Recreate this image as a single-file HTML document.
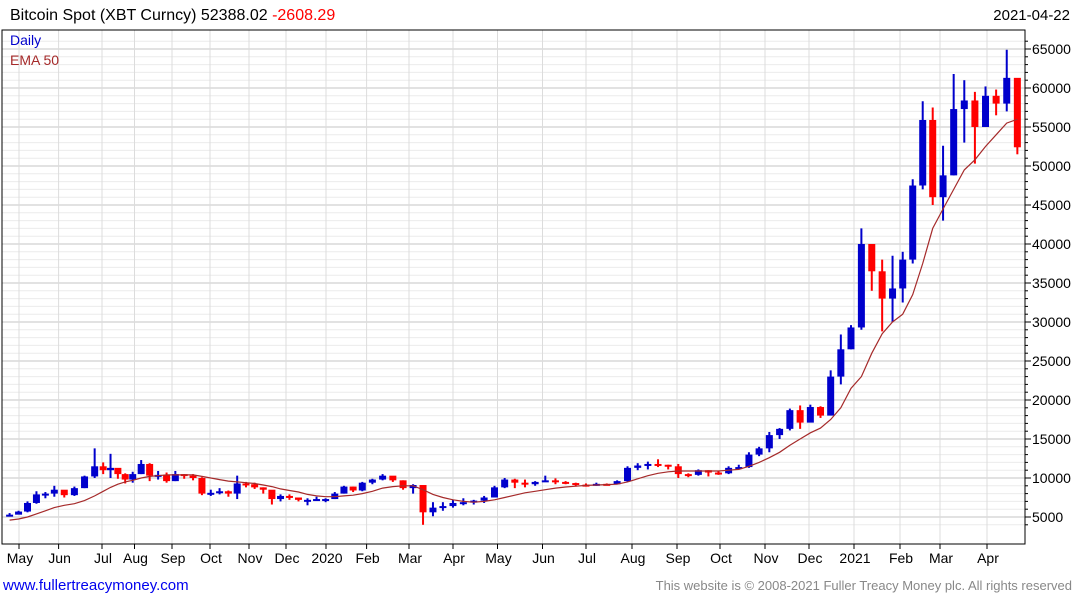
<!DOCTYPE html>
<html><head><meta charset="utf-8"><style>
body{margin:0;background:#fff;width:1075px;height:600px;overflow:hidden;font-family:"Liberation Sans",sans-serif}
svg{position:absolute;left:0;top:0}
</style></head><body>
<svg id="c" width="1075" height="600">
<text x="10" y="20" font-size="16" fill="#000">Bitcoin Spot (XBT Curncy) 52388.02 <tspan fill="#ff0000">-2608.29</tspan></text>
<text x="1070" y="20" font-size="15" text-anchor="end" fill="#000">2021-04-22</text>
<g id="grid"></g><g id="marks"></g><g id="axes"></g>
<text x="10" y="45" font-size="14" fill="#0000cc">Daily</text>
<text x="10" y="65" font-size="14" fill="#a52a2a">EMA 50</text>
<text x="3" y="590" font-size="15" fill="#0000ee">www.fullertreacymoney.com</text>
<text x="1072" y="590" font-size="13" text-anchor="end" fill="#888">This website is © 2008-2021 Fuller Treacy Money plc. All rights reserved</text>
</svg>
<script>
const startDate = "2019-04-26";
const closes = [5300,5700,6800,7900,8000,8500,7800,8700,10200,11500,11000,11300,10500,9800,10500,11800,10300,10400,9600,10500,10300,10000,8000,8100,8300,8000,9300,9200,8800,8500,7300,7700,7500,7200,7200,7300,7300,8000,8900,8400,9400,9800,10300,9700,8700,9100,5600,6200,6400,6800,6900,7100,7500,8800,9800,9400,9200,9500,9700,9500,9350,9150,9100,9250,9200,9600,11300,11600,11800,11700,11500,10500,10400,11000,10700,10600,11300,11400,13000,13800,15500,16300,18700,17100,19100,18000,23000,26500,29300,40000,36500,33000,34300,38000,47500,55900,46000,48800,57300,58400,55000,59000,58000,61300,52400];
const highs = [5500,5800,7000,8300,8200,9000,8400,8900,10300,13800,12000,13100,11000,10600,10800,12300,11900,10900,10700,10900,10500,10500,10100,8500,8700,8400,10300,9500,9400,8800,8200,7900,7900,7500,7400,7600,7400,8200,9000,8900,9500,9900,10500,10200,9700,9200,8000,6900,6900,7200,7400,7200,7700,9000,10000,9900,9800,9600,10300,9950,9600,9400,9300,9400,9300,9700,11500,11900,12100,12400,11700,11800,10600,11100,11000,10900,11500,11700,13300,14000,15900,16400,18900,19300,19400,19200,23800,28400,29600,42000,40000,38000,38500,39000,48300,58300,57500,52600,61800,61000,59500,60200,59800,64900,57000];
const lows = [5100,5400,5600,6700,7400,7600,7500,7700,8700,10000,10500,10000,9900,9300,9400,10500,9600,9800,9400,9600,9900,9700,7800,7700,7900,7600,7300,8800,8600,8000,6600,7000,7200,7000,6500,7100,6900,7300,8000,8200,8300,9200,9700,9500,8500,8000,4000,5100,5800,6200,6500,6600,6800,7500,8700,8700,8800,9000,9500,9200,9200,8900,8900,9000,9100,9200,9500,11000,11100,11400,11100,10000,10100,10300,10200,10400,10500,11100,11300,12800,13300,15000,16100,16300,18000,17700,18100,22000,26500,29000,34000,28800,30000,32500,37500,47000,45000,43000,48800,53000,50300,55000,56500,57000,51500];
const ema50 = [4600,4750,5000,5400,5800,6200,6500,6700,7100,7700,8300,8800,9200,9500,9700,10000,10200,10300,10400,10400,10400,10400,10200,10000,9800,9600,9500,9400,9300,9100,8900,8600,8400,8200,7900,7700,7600,7600,7700,7800,8000,8300,8700,8900,9000,9000,8500,7900,7500,7200,7000,6900,7000,7200,7500,7800,8100,8300,8500,8700,8850,8950,9050,9100,9150,9200,9500,9900,10300,10600,10800,10900,10900,10900,10900,10900,11000,11100,11500,12000,12600,13300,14200,15000,15800,16400,17500,19000,21500,23000,26000,28500,30000,31000,33500,37500,42000,44500,47000,49500,50800,52500,54000,55500,56000];
const firstOpen = 5200;
const yTicks = [5000,10000,15000,20000,25000,30000,35000,40000,45000,50000,55000,60000,65000];
// x-axis anchors: month starts May 2019 .. Apr 2021
const monthNames = ['May','Jun','Jul','Aug','Sep','Oct','Nov','Dec','2020','Feb','Mar','Apr','May','Jun','Jul','Aug','Sep','Oct','Nov','Dec','2021','Feb','Mar','Apr'];

const NS="http://www.w3.org/2000/svg";
function mk(t,a,p){const e=document.createElementNS(NS,t);for(const k in a)e.setAttribute(k,a[k]);p.appendChild(e);return e;}
const L=2,R=1025,T=30,B=544;
function yS(v){return 517-(v-5000)*0.0078;}
const anchorPx=[19,58.6,102,134.5,172,210,249,286,326,366.6,409,453,497.5,542.5,586,632,677,720,765,809,854,900,940,987];
const monthStarts=[];for(let k=0;k<24;k++){monthStarts.push(Date.UTC(2019+Math.floor((4+k)/12),(4+k)%12,1));}
function xS(d){const t=d.getTime();let i=0;while(i<monthStarts.length-2&&t>=monthStarts[i+1])i++;
 return anchorPx[i]+(t-monthStarts[i])/(monthStarts[i+1]-monthStarts[i])*(anchorPx[i+1]-anchorPx[i]);}
function addDays(s,n){const d=new Date(s+"T00:00:00Z");d.setUTCDate(d.getUTCDate()+n);return d;}

const grid=document.getElementById('grid'),marks=document.getElementById('marks'),axes=document.getElementById('axes');
for(let v=4000;v<=66000;v+=1000){const y=yS(v);if(y<T||y>B)continue;const major=v%5000===0;
 const g=mk('line',{x1:L,x2:R,y1:y,y2:y,stroke:major?'#c4c4c4':'#ebebeb','stroke-width':1},grid);
 
 const tk=mk('line',{x1:R,x2:R+(major?6:3),y1:y,y2:y,stroke:'#000'},axes);
 }
yTicks.forEach(v=>{const t=mk('text',{x:1032,y:yS(v)+5,'font-size':14,fill:'#000'},axes);t.textContent=v;
 });
monthStarts.forEach((ms,k)=>{const x=xS(new Date(ms));
 const g=mk('line',{x1:x,x2:x,y1:T,y2:B,stroke:'#dcdcdc'},grid);
 const tk=mk('line',{x1:x,x2:x,y1:B,y2:B+5,stroke:'#000'},axes);
 const t=mk('text',{x:x+1,y:563,'font-size':14,'text-anchor':'middle',fill:'#000'},axes);t.textContent=monthNames[k];
 });
const fr=mk('rect',{x:L,y:T,width:R-L,height:B-T,fill:'none',stroke:'#000','stroke-width':1},axes);


let pts=[];
closes.forEach((c,i)=>{const d=addDays(startDate,i*7);const x=xS(d)-3;const o=i?closes[i-1]:firstOpen;
 const col=c>=o?'#0000cc':'#ff0000';
 const w=mk('line',{x1:x,x2:x,y1:yS(highs[i]),y2:yS(lows[i]),stroke:col,'stroke-width':2},marks);
 
 const top=yS(Math.max(o,c)),bot=yS(Math.min(o,c));
 const b=mk('rect',{x:x-3.5,y:top,width:7,height:Math.max(2,bot-top),fill:col},marks);
 
 pts.push(x.toFixed(1)+','+yS(ema50[i]).toFixed(1));});
const el=mk('polyline',{points:pts.join(' '),fill:'none',stroke:'#a52a2a','stroke-width':1.2},marks);

</script>
</body></html>
